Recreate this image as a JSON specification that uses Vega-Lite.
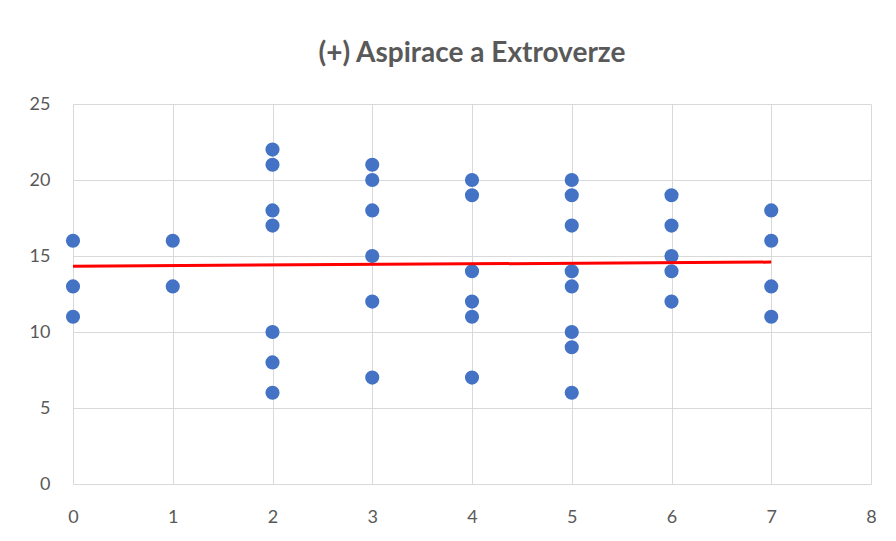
{
  "$schema": "https://vega.github.io/schema/vega-lite/v6.json",
  "width": 798,
  "height": 380,
  "autosize": {"type": "none"},
  "padding": {"left": 73, "top": 104, "right": 25, "bottom": 57},
  "background": "white",
  "title": {
    "text": "(+) Aspirace a Extroverze",
    "font": "Lato",
    "fontSize": 28,
    "fontWeight": "bold",
    "color": "#595959",
    "anchor": "middle",
    "offset": 27
  },
  "config": {
    "view": {"stroke": null},
    "axis": {
      "labelFont": "Lato",
      "labelFontSize": 18,
      "labelColor": "#595959",
      "gridColor": "#d9d9d9",
      "gridWidth": 1,
      "ticks": false,
      "domain": false,
      "labelFlush": false,
      "title": null
    }
  },
  "layer": [
    {
      "data": {
        "values": [
          {"x": 0, "y": 16}, {"x": 0, "y": 13}, {"x": 0, "y": 11},
          {"x": 1, "y": 16}, {"x": 1, "y": 13},
          {"x": 2, "y": 22}, {"x": 2, "y": 21}, {"x": 2, "y": 18}, {"x": 2, "y": 17}, {"x": 2, "y": 10}, {"x": 2, "y": 8}, {"x": 2, "y": 6},
          {"x": 3, "y": 21}, {"x": 3, "y": 20}, {"x": 3, "y": 18}, {"x": 3, "y": 15}, {"x": 3, "y": 12}, {"x": 3, "y": 7},
          {"x": 4, "y": 20}, {"x": 4, "y": 19}, {"x": 4, "y": 14}, {"x": 4, "y": 12}, {"x": 4, "y": 11}, {"x": 4, "y": 7},
          {"x": 5, "y": 20}, {"x": 5, "y": 19}, {"x": 5, "y": 17}, {"x": 5, "y": 14}, {"x": 5, "y": 13}, {"x": 5, "y": 10}, {"x": 5, "y": 9}, {"x": 5, "y": 6},
          {"x": 6, "y": 19}, {"x": 6, "y": 17}, {"x": 6, "y": 15}, {"x": 6, "y": 14}, {"x": 6, "y": 12},
          {"x": 7, "y": 18}, {"x": 7, "y": 16}, {"x": 7, "y": 13}, {"x": 7, "y": 11}
        ]
      },
      "mark": {"type": "circle", "size": 200, "color": "#4472c4", "opacity": 1},
      "encoding": {
        "x": {"field": "x", "type": "quantitative", "scale": {"domain": [0, 8], "nice": false}, "axis": {"tickCount": 8, "labelPadding": 24}},
        "y": {"field": "y", "type": "quantitative", "scale": {"domain": [0, 25], "nice": false}, "axis": {"values": [0, 5, 10, 15, 20, 25], "labelPadding": 23}}
      }
    },
    {
      "data": {"values": [{"x": 0, "y": 14.33}, {"x": 7, "y": 14.6}]},
      "mark": {"type": "line", "color": "#ff0000", "strokeWidth": 3},
      "encoding": {
        "x": {"field": "x", "type": "quantitative"},
        "y": {"field": "y", "type": "quantitative"}
      }
    }
  ]
}
